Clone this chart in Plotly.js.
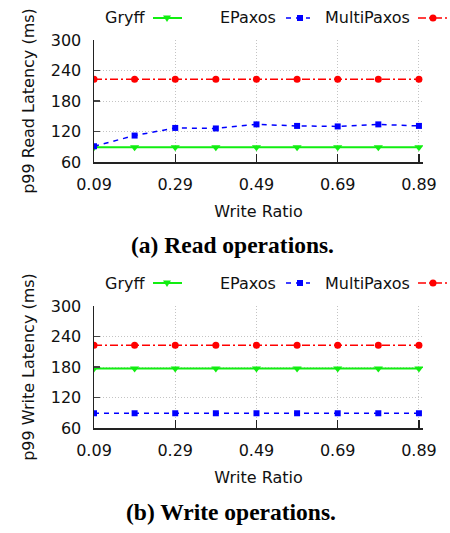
<!DOCTYPE html>
<html>
<head>
<meta charset="utf-8">
<script src="https://cdn.plot.ly/plotly-3.0.1.min.js"></script>
<style>html,body{margin:0;padding:0;background:#fff;}#chart{width:450px;height:533px;}</style>
</head>
<body>
<div id="chart"></div>
<script>
// ---- data ----
const writeRatio = [0.09, 0.19, 0.29, 0.39, 0.49, 0.59, 0.69, 0.79, 0.89];
const xTickVals = [0.09, 0.29, 0.49, 0.69, 0.89];
const xTickText = ["0.09", "0.29", "0.49", "0.69", "0.89"];
const yTickVals = [60, 120, 180, 240, 300];
const seriesNames = ["Gryff", "EPaxos", "MultiPaxos"];
const readGryff = [89, 89, 89, 89, 89, 89, 89, 89, 89];
const readEPaxos = [91, 112, 127, 126, 134, 131, 130, 134, 131];
const readMultiPaxos = [223, 223, 223, 223, 223, 223, 223, 223, 223];
const writeGryff = [177, 177, 177, 177, 177, 177, 177, 177, 177];
const writeEPaxos = [89, 89, 89, 89, 89, 89, 89, 89, 89];
const writeMultiPaxos = [223, 223, 223, 223, 223, 223, 223, 223, 223];

// ---- styles ----
const W = 450, H = 533;
const M = {l: 94, r: 27, t: 40, b: 105};
const PW = W - M.l - M.r, PH = H - M.t - M.b;
const FONT = "DejaVu Sans, Verdana, sans-serif";
const GREEN = "#11ee11", BLUE = "#0000ff", RED = "#ff0000";
const styles = [
  {color: GREEN, dash: "solid", width: 2, symbol: "triangle-down", size: 8},
  {color: BLUE, dash: "5px,5px", width: 1.5, symbol: "square", size: 6},
  {color: RED, dash: "8px,3px,2px,3px", width: 1.5, symbol: "circle", size: 7}
];
const px = x => (x - M.l) / PW;
const py = y => (M.t + PH - y) / PH;

function mk(x, y, i, xa, ya) {
  const s = styles[i];
  return {x: x, y: y, type: "scatter", mode: "lines+markers", name: seriesNames[i],
    xaxis: xa, yaxis: ya, showlegend: false,
    line: {color: s.color, dash: s.dash, width: s.width},
    marker: {color: s.color, symbol: s.symbol, size: s.size, line: {width: 0}}};
}
const traces = [
  mk(writeRatio, readGryff, 0, "x", "y"),
  mk(writeRatio, readEPaxos, 1, "x", "y"),
  mk(writeRatio, readMultiPaxos, 2, "x", "y"),
  mk(writeRatio, writeGryff, 0, "x2", "y2"),
  mk(writeRatio, writeEPaxos, 1, "x2", "y2"),
  mk(writeRatio, writeMultiPaxos, 2, "x2", "y2")
];

const topDom = [py(162), 1];
const botDom = [0, py(306)];
function xax(anchor) {
  return {domain: [0, 1], anchor: anchor, range: [0.09, 0.9], tickmode: "array",
    tickvals: xTickVals, ticktext: xTickText, ticks: "inside", ticklen: 8, tickwidth: 1.2,
    tickcolor: "#222", showline: true, linecolor: "#222", linewidth: 1.5,
    showgrid: true, gridcolor: "#c4c4c4", griddash: "1px,2px", gridwidth: 1, zeroline: false,
    ticklabelstandoff: 7, tickfont: {family: FONT, size: 16, color: "#111"},
    title: {text: "Write Ratio", font: {family: FONT, size: 16, color: "#111"}, standoff: 13}};
}
function yax(anchor, dom, title) {
  return {domain: dom, anchor: anchor, range: [60, 300], tickmode: "array", tickvals: yTickVals,
    ticks: "inside", ticklen: 6, tickwidth: 1.2, tickcolor: "#444", showline: true,
    linecolor: "#222", linewidth: 1.5, showgrid: true, gridcolor: "#c4c4c4", griddash: "1px,2px",
    gridwidth: 1, zeroline: false, ticklabelstandoff: 8,
    tickfont: {family: FONT, size: 16, color: "#111"},
    title: {text: title, font: {family: FONT, size: 16, color: "#111"}, standoff: 12}};
}

// ---- custom gnuplot-style legends (text then sample) ----
const shapes = [], annotations = [];
const legendItems = [
  {textX: 103, lineX0: 153, lineX1: 182, markX: 167},
  {textX: 218, lineX0: 286, lineX1: 310, markX: 300},
  {textX: 323, lineX0: 418, lineX1: 452, markX: 433}
];
function addLegend(cy) {
  legendItems.forEach((it, i) => {
    const s = styles[i];
    annotations.push({xref: "paper", yref: "paper", x: px(it.textX), y: py(cy), xanchor: "left",
      yanchor: "middle", showarrow: false, text: seriesNames[i],
      font: {family: FONT, size: 16, color: "#111"}});
    shapes.push({type: "line", xref: "paper", yref: "paper", x0: px(it.lineX0), x1: px(it.lineX1),
      y0: py(cy), y1: py(cy), line: {color: s.color, width: s.width, dash: s.dash}});
    const mx = it.markX;
    if (s.symbol === "circle") {
      shapes.push({type: "circle", xref: "paper", yref: "paper", x0: px(mx - 3.5), x1: px(mx + 3.5),
        y0: py(cy + 3.5), y1: py(cy - 3.5), fillcolor: s.color, line: {width: 0}});
    } else if (s.symbol === "square") {
      shapes.push({type: "rect", xref: "paper", yref: "paper", x0: px(mx - 3), x1: px(mx + 3),
        y0: py(cy + 3), y1: py(cy - 3), fillcolor: s.color, line: {width: 0}});
    } else {
      shapes.push({type: "path", xref: "paper", yref: "paper",
        path: `M ${px(mx - 4)},${py(cy - 2.5)} L ${px(mx + 4)},${py(cy - 2.5)} L ${px(mx)},${py(cy + 4)} Z`,
        fillcolor: s.color, line: {width: 0}});
    }
  });
}
addLegend(18);
addLegend(283);

// subcaptions
annotations.push({xref: "paper", yref: "paper", x: px(232), y: py(245), xanchor: "center", yanchor: "middle",
  showarrow: false, text: "<b>(a) Read operations.</b>",
  font: {family: "Liberation Serif, Times New Roman, serif", size: 23.5, color: "#000"}});
annotations.push({xref: "paper", yref: "paper", x: px(231), y: py(512), xanchor: "center", yanchor: "middle",
  showarrow: false, text: "<b>(b) Write operations.</b>",
  font: {family: "Liberation Serif, Times New Roman, serif", size: 23.5, color: "#000"}});

const layout = {
  width: W, height: H, margin: M, paper_bgcolor: "#fff", plot_bgcolor: "#fff",
  showlegend: false,
  xaxis: xax("y"), yaxis: yax("x", topDom, "p99 Read Latency (ms)"),
  xaxis2: xax("y2"), yaxis2: yax("x2", botDom, "p99 Write Latency (ms)"),
  shapes: shapes, annotations: annotations
};
Plotly.newPlot("chart", traces, layout, {displayModeBar: false, staticPlot: true});
</script>
</body>
</html>
